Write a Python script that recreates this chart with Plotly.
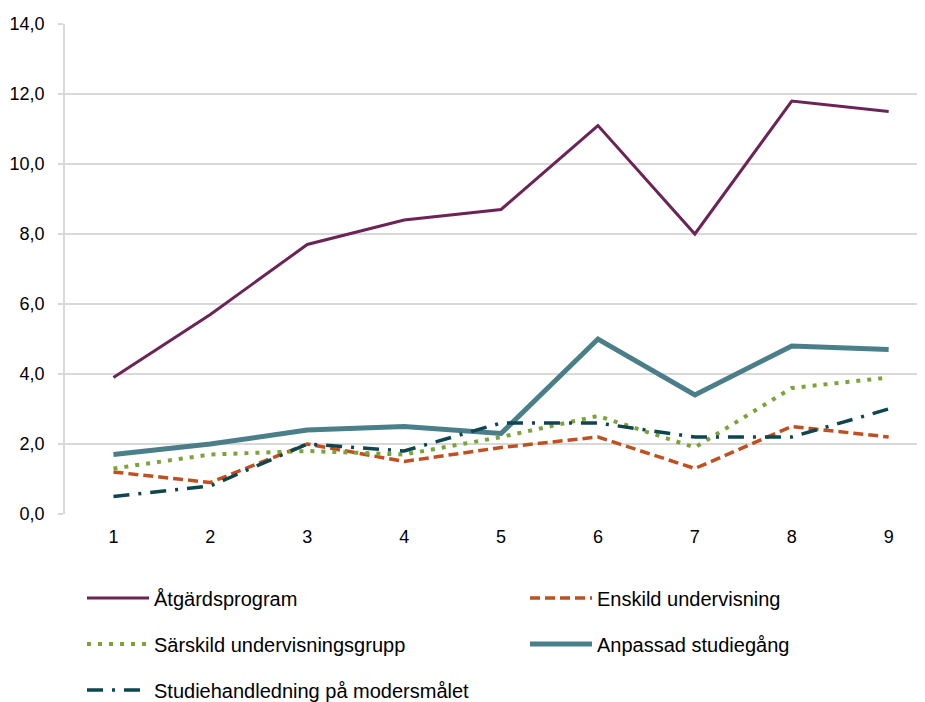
import plotly.graph_objects as go

categories = [1, 2, 3, 4, 5, 6, 7, 8, 9]
atgardsprogram = [3.9, 5.7, 7.7, 8.4, 8.7, 11.1, 8.0, 11.8, 11.5]
enskild = [1.2, 0.9, 2.0, 1.5, 1.9, 2.2, 1.3, 2.5, 2.2]
sarskild = [1.3, 1.7, 1.8, 1.7, 2.2, 2.8, 1.9, 3.6, 3.9]
anpassad = [1.7, 2.0, 2.4, 2.5, 2.3, 5.0, 3.4, 4.8, 4.7]
studiehandledning = [0.5, 0.8, 2.0, 1.8, 2.6, 2.6, 2.2, 2.2, 3.0]
y_ticks = [0, 2, 4, 6, 8, 10, 12, 14]

FONT = "Liberation Sans, Arial, sans-serif"

series = [
    ("Åtgärdsprogram", atgardsprogram, "#6b2456", 3, "solid", "legend"),
    ("Enskild undervisning", enskild, "#c0501f", 3.5, "10px,5px", "legend2"),
    ("Särskild undervisningsgrupp", sarskild, "#7aa43a", 4, "4px,7px", "legend3"),
    ("Anpassad studiegång", anpassad, "#4a7f8a", 5, "solid", "legend4"),
    ("Studiehandledning på modersmålet", studiehandledning, "#0e4650", 3.5, "16px,9px,3px,9px", "legend5"),
]

fig = go.Figure()
for name, vals, color, width, dash, leg in series:
    fig.add_trace(go.Scatter(
        x=categories, y=vals, name=name, mode="lines",
        line=dict(color=color, width=width, dash=dash),
        legend=leg, showlegend=True,
    ))

W, H = 917, 694
legend_pos = {
    "legend": (74, 590),
    "legend2": (517, 590),
    "legend3": (74, 636),
    "legend4": (517, 636),
    "legend5": (74, 682),
}
legend_layout = {}
for key, (px, py) in legend_pos.items():
    legend_layout[key] = dict(
        x=px / W, y=1 - py / H, xref="container", yref="container",
        xanchor="left", yanchor="middle",
        font=dict(family=FONT, size=20, color="#000000"),
        itemwidth=62, bgcolor="rgba(0,0,0,0)", visible=True,
    )

fig.update_layout(
    width=W, height=H,
    margin=dict(l=57, r=0, t=16, b=188, autoexpand=False),
    plot_bgcolor="white", paper_bgcolor="white",
    separators=",.",
    showlegend=True,
    font=dict(family=FONT, size=18, color="#000000"),
    **legend_layout,
)
fig.update_xaxes(
    range=[0.5, 9.375], tickvals=categories, ticktext=[str(c) for c in categories],
    showgrid=False, zeroline=False, showline=False, ticks="",
    ticklabelstandoff=10,
    tickfont=dict(family=FONT, size=18, color="#000000"),
)
fig.update_yaxes(
    range=[0, 14], tickvals=y_ticks, tickformat=".1f",
    showgrid=True, gridcolor="#d9d9d9", gridwidth=1.5,
    zeroline=False, showline=True, linecolor="#d9d9d9", linewidth=1.5,
    ticks="outside", ticklen=5, tickcolor="#d9d9d9", tickwidth=1.5,
    ticklabelstandoff=10,
    tickfont=dict(family=FONT, size=18, color="#000000"),
)
fig.write_html("out.html")
